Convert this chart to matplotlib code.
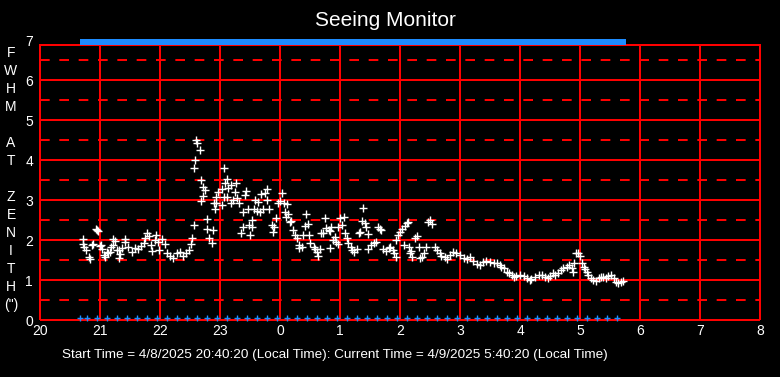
import matplotlib
matplotlib.use("Agg")
import matplotlib.pyplot as plt

plt.rcParams['font.family'] = ['Liberation Sans', 'DejaVu Sans']

# Seeing measurements: time in hours (past 24 = next day), FWHM at zenith (arcsec)
times = [
    20.71, 20.72, 20.73, 20.77, 20.82, 20.83, 20.86, 20.88, 20.93, 20.95, 20.97,
    21.00, 21.01, 21.03, 21.06, 21.08, 21.11, 21.14, 21.17, 21.19, 21.21, 21.22,
    21.25, 21.29, 21.31, 21.32, 21.33, 21.36, 21.41, 21.42, 21.47, 21.53, 21.58,
    21.64, 21.69, 21.73, 21.75, 21.78, 21.82, 21.85, 21.86, 21.92, 21.93, 21.96,
    21.99, 22.03, 22.08, 22.12, 22.17, 22.22, 22.28, 22.33, 22.39, 22.44, 22.49,
    22.51, 22.53, 22.56, 22.57, 22.59, 22.60, 22.62, 22.66, 22.68, 22.69, 22.71,
    22.72, 22.75, 22.78, 22.79, 22.82, 22.86, 22.89, 22.90, 22.92, 22.93, 22.94,
    22.97, 23.03, 23.04, 23.06, 23.07, 23.09, 23.11, 23.12, 23.14, 23.18, 23.19,
    23.21, 23.25, 23.27, 23.28, 23.31, 23.35, 23.38, 23.39, 23.42, 23.43, 23.46,
    23.49, 23.50, 23.53, 23.54, 23.56, 23.58, 23.61, 23.64, 23.67, 23.69, 23.72,
    23.75, 23.78, 23.79, 23.81, 23.86, 23.88, 23.90, 23.94, 23.97, 24.00, 24.03,
    24.06, 24.08, 24.10, 24.11, 24.14, 24.17, 24.19, 24.22, 24.25, 24.28, 24.31,
    24.32, 24.36, 24.39, 24.42, 24.43, 24.47, 24.48, 24.50, 24.56, 24.58, 24.62,
    24.64, 24.67, 24.69, 24.72, 24.75, 24.77, 24.81, 24.83, 24.84, 24.85, 24.89,
    24.92, 24.94, 24.96, 24.97, 25.00, 25.03, 25.06, 25.08, 25.11, 25.14, 25.18,
    25.20, 25.23, 25.29, 25.31, 25.33, 25.36, 25.39, 25.42, 25.43, 25.46, 25.47,
    25.51, 25.56, 25.60, 25.64, 25.67, 25.69, 25.72, 25.77, 25.81, 25.84, 25.88,
    25.90, 25.93, 25.94, 25.97, 26.00, 26.04, 26.06, 26.08, 26.11, 26.14, 26.15,
    26.17, 26.19, 26.20, 26.25, 26.28, 26.31, 26.33, 26.36, 26.40, 26.44, 26.47,
    26.50, 26.53, 26.58, 26.62, 26.66, 26.69, 26.75, 26.79, 26.83, 26.89, 26.94,
    27.00, 27.06, 27.11, 27.17, 27.22, 27.28, 27.33, 27.39, 27.44, 27.50, 27.56,
    27.61, 27.66, 27.69, 27.73, 27.78, 27.82, 27.86, 27.90, 27.94, 28.00, 28.06,
    28.11, 28.16, 28.19, 28.25, 28.31, 28.36, 28.42, 28.46, 28.50, 28.55, 28.58,
    28.64, 28.68, 28.72, 28.78, 28.82, 28.86, 28.88, 28.90, 28.93, 28.97, 29.00,
    29.03, 29.06, 29.08, 29.11, 29.14, 29.18, 29.22, 29.27, 29.31, 29.35, 29.39,
    29.43, 29.47, 29.51, 29.56, 29.60, 29.64, 29.68, 29.71,
]
fwhm = [
    2.03, 1.89, 1.82, 1.75, 1.58, 1.53, 1.88, 1.89, 2.28, 2.25, 2.23,
    1.85, 1.88, 1.78, 1.63, 1.58, 1.71, 1.67, 1.71, 1.83, 1.88, 2.03,
    1.98, 1.75, 1.75, 1.54, 1.64, 1.79, 2.03, 1.96, 1.83, 1.71, 1.79,
    1.78, 1.86, 1.92, 2.04, 2.17, 2.10, 1.88, 1.73, 2.00, 2.12, 1.94,
    1.75, 2.02, 1.89, 1.67, 1.61, 1.54, 1.67, 1.71, 1.61, 1.67, 1.75,
    1.89, 2.04, 2.38, 3.79, 4.00, 4.50, 4.42, 4.25, 2.98, 3.50, 3.10,
    3.33, 3.25, 2.52, 2.28, 2.04, 1.92, 2.25, 2.92, 2.77, 2.93, 3.08,
    3.21, 3.27, 2.88, 3.08, 3.79, 3.42, 3.08, 3.52, 3.29, 2.92, 3.38,
    3.00, 3.21, 3.42, 3.04, 2.92, 2.18, 2.33, 2.71, 3.13, 3.23, 2.77,
    2.38, 2.12, 2.32, 2.50, 2.77, 3.00, 2.73, 2.96, 2.71, 3.15, 2.77,
    3.17, 3.27, 3.00, 2.77, 2.38, 2.21, 2.33, 2.54, 2.93, 2.98, 3.17,
    2.92, 2.71, 2.58, 2.90, 2.65, 2.46, 2.48, 2.25, 2.12, 2.04, 1.88,
    1.79, 1.83, 2.12, 2.35, 2.65, 2.40, 2.12, 1.92, 1.83, 1.77, 1.71,
    1.60, 1.77, 2.17, 2.18, 2.54, 2.29, 2.25, 2.23, 1.79, 2.32, 2.00,
    2.08, 1.96, 1.90, 2.33, 2.54, 2.38, 2.58, 2.18, 2.04, 1.92, 1.83,
    1.75, 1.71, 1.77, 2.17, 2.21, 2.48, 2.79, 2.42, 2.32, 2.15, 1.77,
    1.88, 1.92, 1.94, 2.32, 2.27, 2.25, 1.77, 1.73, 1.79, 1.83, 1.75,
    1.68, 1.58, 2.00, 2.12, 2.21, 2.27, 1.88, 2.35, 2.42, 2.46, 1.83,
    1.67, 1.73, 1.57, 2.04, 2.10, 1.83, 1.54, 1.58, 1.67, 1.82, 2.46,
    2.50, 2.40, 1.82, 1.75, 1.67, 1.60, 1.58, 1.52, 1.63, 1.71, 1.68,
    1.63, 1.54, 1.52, 1.58, 1.48, 1.40, 1.38, 1.46, 1.48, 1.46, 1.43,
    1.42, 1.38, 1.33, 1.29, 1.21, 1.17, 1.13, 1.08, 1.10, 1.13, 1.11,
    1.04, 1.00, 1.02, 1.08, 1.13, 1.13, 1.08, 1.04, 1.10, 1.17, 1.13,
    1.18, 1.25, 1.29, 1.33, 1.38, 1.29, 1.21, 1.43, 1.67, 1.68, 1.60,
    1.42, 1.33, 1.27, 1.21, 1.13, 1.04, 1.00, 0.98, 1.04, 1.08, 1.08,
    1.04, 1.10, 1.13, 1.04, 0.96, 0.92, 0.96, 0.98,
]

# Blue status markers along the bottom (times, HH:MM)
bottom_marks = [
    "20:40", "20:47", "20:57", "21:07", "21:17", "21:27", "21:37", "21:47",
    "21:57", "22:07", "22:17", "22:27", "22:37", "22:47", "22:57", "23:07",
    "23:17", "23:27", "23:37", "23:47", "23:57", "0:07", "0:17", "0:27",
    "0:37", "0:47", "0:57", "1:07", "1:17", "1:27", "1:37", "1:47", "1:57",
    "2:07", "2:17", "2:27", "2:37", "2:47", "2:57", "3:07", "3:17", "3:27",
    "3:37", "3:47", "3:57", "4:07", "4:17", "4:27", "4:37", "4:47", "4:57",
    "5:07", "5:17", "5:27", "5:37",
]
top_level = 6.94
bottom_level = 0.05

x_ticks = [20, 21, 22, 23, 24, 25, 26, 27, 28, 29, 30, 31, 32]
x_labels = ["20", "21", "22", "23", "0", "1", "2", "3", "4", "5", "6", "7", "8"]
y_ticks = [0, 1, 2, 3, 4, 5, 6, 7]
ylabel_chars = ["F", "W", "H", "M", "", "A", "T", "", "Z", "E", "N", "I", "T", "H", "(\")"]

title = "Seeing Monitor"
footer = "Start Time = 4/8/2025 20:40:20 (Local Time): Current Time = 4/9/2025 5:40:20 (Local Time)"


def hm_to_hours(s):
    h, m = s.split(":")
    h = int(h)
    if h < 12:
        h += 24
    return h + int(m) / 60.0


bottom_times = [hm_to_hours(s) for s in bottom_marks]

W, H = 780, 377
fig = plt.figure(figsize=(W / 100, H / 100), dpi=100, facecolor="black")
ax = fig.add_axes([40 / W, (H - 320) / H, 720 / W, 280 / H], facecolor="black")
ax.set_xlim(20, 32)
ax.set_ylim(0, 7)
for s in ax.spines.values():
    s.set_visible(False)

red = "#ff0000"
lw = 1.45
frame_top = 6.875
# solid grid
for xv in range(20, 33):
    ax.plot([xv, xv], [0, frame_top], color=red, lw=lw, zorder=1, clip_on=False,
            solid_capstyle="butt")
for yv in range(0, 7):
    ax.plot([20, 32], [yv, yv], color=red, lw=lw, zorder=1, clip_on=False,
            solid_capstyle="butt")
ax.plot([20, 32], [frame_top, frame_top], color=red, lw=lw, zorder=1, clip_on=False)
# dashed grid
for k in range(7):
    yv = k + 0.5
    ax.plot([20, 32], [yv, yv], color=red, lw=lw, zorder=1, dashes=(4.8, 4.8),
            dash_capstyle="butt")

# data
ax.plot(times, fwhm, linestyle="none", marker="+", ms=5.8, mew=1.0, color="white",
        zorder=3)
ax.plot(times, [top_level] * len(times), linestyle="none", marker="s", ms=4.2,
        mew=0, color="#1e8cff", zorder=4, clip_on=False)
ax.plot(bottom_times, [bottom_level] * len(bottom_times), linestyle="none", marker="+",
        ms=5.0, mew=1.0, color="#1e8cff", zorder=4, clip_on=False)

ax.set_xticks(x_ticks)
ax.set_xticklabels(x_labels)
ax.set_yticks(y_ticks)
ax.tick_params(axis="both", length=0, colors="white", labelsize=10)
ax.tick_params(axis="x", pad=3)
ax.tick_params(axis="y", pad=5)

fig.text(385 / W, 1 - 20 / H, title, color="white", fontsize=15, ha="center", va="center")
fig.text(62 / W, 1 - 355 / H, footer, color="white", fontsize=9.7, ha="left", va="center")

y0 = 53.3
for i, ch in enumerate(ylabel_chars):
    if ch:
        fig.text(11 / W, 1 - (y0 + i * 18.0) / H, ch, color="white", fontsize=10,
                 ha="center", va="center")

fig.savefig("out.png", dpi=100, facecolor="black")
